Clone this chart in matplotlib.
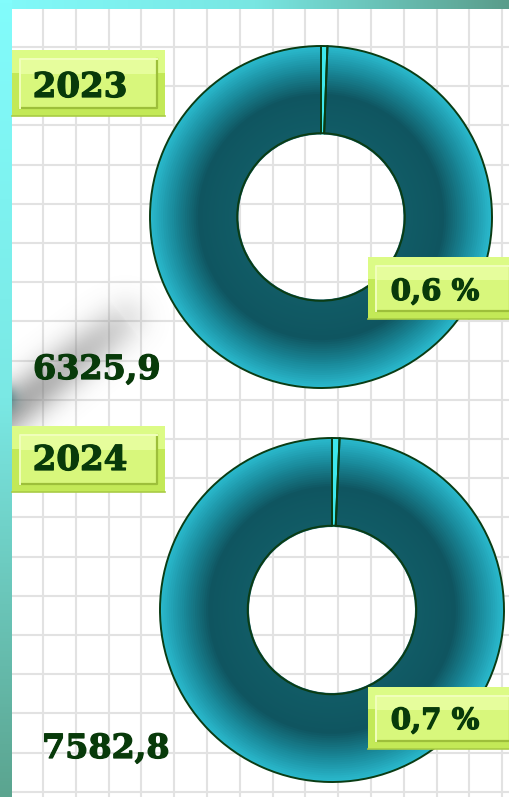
import numpy as np
import matplotlib
matplotlib.use("Agg")
import matplotlib.pyplot as plt
import matplotlib.patheffects as pe
from matplotlib.colors import LinearSegmentedColormap, to_rgb
from matplotlib.patches import Rectangle

# values per year
years = ["2023", "2024"]
totals = [6325.9, 7582.8]
shares = [0.6, 0.7]

W, H = 510, 797
INK = "#083a0a"
FONT = "DejaVu Serif"
BOLD = [pe.withStroke(linewidth=0.9, foreground=INK)]

fig = plt.figure(figsize=(W / 100, H / 100), dpi=100)

# background: white sheet with a light grid
bg = fig.add_axes([0, 0, 1, 1], zorder=0)
bg.set_xlim(0, W)
bg.set_ylim(H, 0)
bg.axis("off")
bg.add_patch(Rectangle((0, 0), W, H, color="white", zorder=0))
for x in np.arange(43, W, 32.8):
    bg.axvline(x, color="#e2e2e2", lw=1.5, zorder=1)
for y in np.arange(47, H, 39.2):
    bg.axhline(y, color="#e2e2e2", lw=1.5, zorder=1)

# soft grey smear on the left
gx, gy = np.meshgrid(np.arange(0, 200), np.arange(270, 470))
p0, p1 = np.array([125.0, 320.0]), np.array([5.0, 415.0])
seg = p1 - p0
t = np.clip(((gx - p0[0]) * seg[0] + (gy - p0[1]) * seg[1]) / (seg @ seg), 0, 1)
d2 = (gx - p0[0] - t * seg[0]) ** 2 + (gy - p0[1] - t * seg[1]) ** 2
alpha = 0.62 * np.exp(-d2 / (2 * 16 ** 2)) * (0.3 + 0.7 * np.sqrt(t))
smear = np.zeros(gx.shape + (4,))
smear[..., :3] = 0.45
smear[..., 3] = alpha
bg.imshow(smear, extent=[0, 200, 470, 270], aspect="auto", zorder=2)
bx, by = np.meshgrid(np.arange(0, 40), np.arange(360, 440))
blob = np.zeros(bx.shape + (4,))
blob[..., :3] = to_rgb("#1d6a70")
blob[..., 3] = 0.8 * np.exp(-((bx - 2) ** 2 + (by - 398) ** 2) / (2 * 9 ** 2))
bg.imshow(blob, extent=[0, 40, 440, 360], aspect="auto", zorder=2)

# cyan frame strips
top_cols = LinearSegmentedColormap.from_list("top", ["#82fafa", "#78e6e2", "#5a9c8a"])
left_cols = LinearSegmentedColormap.from_list("left", ["#82fcfc", "#7ae8e4", "#5ba48f"])
bg.imshow(top_cols(np.linspace(0, 1, 256))[None, :, :], extent=[0, W, 9, 0],
          aspect="auto", zorder=3)
bg.imshow(left_cols(np.linspace(0, 1, 256))[:, None, :], extent=[0, 12, H, 0],
          aspect="auto", zorder=3)
bg.set_xlim(0, W)
bg.set_ylim(H, 0)

# donut rings
ring = LinearSegmentedColormap.from_list(
    "ring", [(0, "#115c66"), (0.45, "#0f5560"), (0.75, "#1a8b9c"), (1.0, "#2ab8cc")])
centers = [(321, 217), (332, 610)]
radii = [171, 172]
hole = 0.49
n_bands = 40
pad = 1.02
for (cx, cy), r, s in zip(centers, radii, shares):
    ax = fig.add_axes([(cx - r * pad) / W, (H - cy - r * pad) / H,
                       2 * r * pad / W, 2 * r * pad / H], zorder=1)
    dw = (1 - hole) / n_bands
    for i in range(n_bands):
        rad = 1 - i * dw
        tt = (rad - hole) / (1 - hole)
        ax.pie([s, 100 - s], radius=rad, startangle=90, counterclock=False,
               colors=["#3ee8ec", ring(tt)],
               wedgeprops=dict(width=dw * 1.6, linewidth=0))
    ax.pie([s, 100 - s], radius=1, startangle=90, counterclock=False,
           wedgeprops=dict(width=1 - hole, facecolor="none",
                           edgecolor="#0a3c14", linewidth=1.4))
    ax.set_xlim(-pad, pad)
    ax.set_ylim(-pad, pad)
    ax.axis("off")

# labels on top
fg = fig.add_axes([0, 0, 1, 1], zorder=3)
fg.set_xlim(0, W)
fg.set_ylim(H, 0)
fg.axis("off")
fg.patch.set_alpha(0)


def label_box(x, y, w, h):
    fg.add_patch(Rectangle((x, y), w, h, facecolor="#c3e957", edgecolor="none"))
    fg.add_patch(Rectangle((x, y), w, h * 0.35, facecolor="#dcfb86", edgecolor="none"))
    ix, iy, iw, ih = x + 8, y + 9, w - 16, h - 17
    fg.add_patch(Rectangle((ix, iy), iw, ih, facecolor="#d8f77c", edgecolor="none"))
    fg.add_patch(Rectangle((ix, iy), iw, ih * 0.3, facecolor="#e6fd9c", edgecolor="none"))
    fg.plot([ix, ix + iw, ix + iw], [iy + ih, iy + ih, iy], color="#9dbf3a", lw=1.6)
    fg.plot([ix, ix, ix + iw], [iy + ih, iy, iy], color="#f1ffbc", lw=1.4)
    fg.plot([x, x + w], [y + h, y + h], color="#a9cc45", lw=1.2)


year_boxes = [(12, 50, 153, 66), (12, 426, 153, 66)]
share_boxes = [(368, 257, 150, 62), (368, 687, 150, 62)]
year_text = [(80, 97), (80, 470)]
share_text = [(435, 300), (435, 729)]
total_text = [(33, 379), (42, 758)]

for yr, tot, s, yb, sb, yt, st, tt in zip(years, totals, shares, year_boxes,
                                          share_boxes, year_text, share_text,
                                          total_text):
    label_box(*yb)
    label_box(*sb)
    fg.text(*yt, yr, ha="center", va="baseline", fontsize=24.5,
            fontweight="bold", family=FONT, color=INK, path_effects=BOLD)
    fg.text(*st, f"{s:.1f} %".replace(".", ","), ha="center", va="baseline",
            fontsize=21, fontweight="bold", family=FONT, color=INK,
            path_effects=BOLD)
    fg.text(*tt, f"{tot:.1f}".replace(".", ","), ha="left", va="baseline",
            fontsize=24, fontweight="bold", family=FONT, color=INK,
            path_effects=BOLD)

fig.savefig("out.png", dpi=100)
